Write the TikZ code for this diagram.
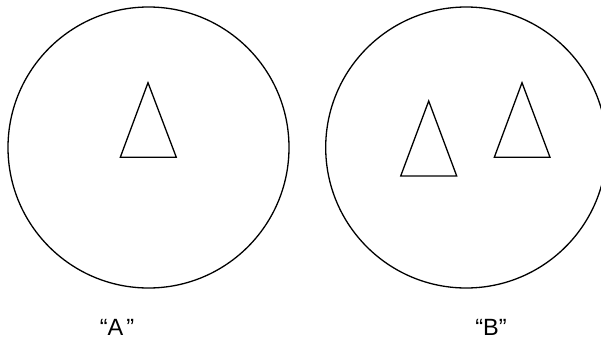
\documentclass[tikz,border=0pt]{standalone}
\usepackage{fontspec}
\setmainfont{Liberation Sans}
\usetikzlibrary{positioning}

\begin{document}
\begin{tikzpicture}[x=1pt, y=-1pt, line width=1.3pt,
    lbl/.style={anchor=base, inner sep=0pt, text depth=0pt,
      font=\fontsize{23.5}{28}\selectfont}]
  \useasboundingbox (0,0) rectangle (601,340);
  % Circle A
  \draw (148.5,147.5) circle[radius=140.5];
  \draw (120.3,157.3) -- (148,82.7) -- (176.3,157.3) -- cycle;
  % Circle B (cut at the right edge)
  \begin{scope}
    \clip (0,0) rectangle (601,340);
    \draw (466.2,147.5) circle[radius=140.5];
  \end{scope}
  \draw (400.7,176) -- (428.7,101) -- (456.7,176) -- cycle;
  \draw (494.3,157.3) -- (522,82.7) -- (550,157.3) -- cycle;
  % Labels
  \node[lbl] (labelA) at (117,335.5) {“A\kern3pt”};
  \node[lbl] (labelB) at (491,335.5) {“B”};
\end{tikzpicture}
\end{document}
